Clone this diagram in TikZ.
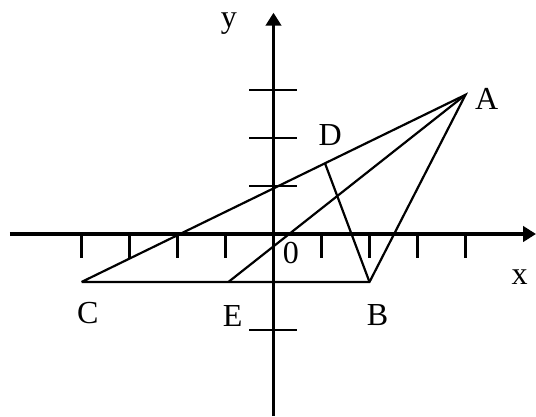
\documentclass[tikz,border=0pt]{standalone}
\usepackage{fontspec}
\setmainfont{Liberation Serif}
\usetikzlibrary{arrows.meta}

\begin{document}
\begin{tikzpicture}[
    axis/.style={line width=1.8pt,-{Triangle[length=0.27cm,width=0.32cm]}},
    tickmark/.style={line width=1.3pt},
    side/.style={line width=1.3pt,line join=miter},
    lbl/.style={font=\fontsize{19}{21}\selectfont,inner sep=0pt}]
\useasboundingbox (-5.698,-3.792) rectangle (5.469,4.875);
% axes
\coordinate (xs) at (-5.49,0);  \coordinate (xe) at (5.469,0);
\coordinate (ys) at (0,-3.792); \coordinate (ye) at (0,4.61);
\draw[axis](xs)--(xe);\draw[axis](ys)--(ye);
% ticks
\draw[tickmark](-4,0)--(-4,-0.5);\draw[tickmark](-3,0)--(-3,-0.5);
\draw[tickmark](-2,0)--(-2,-0.5);\draw[tickmark](-1,0)--(-1,-0.5);
\draw[tickmark](1,0)--(1,-0.5);\draw[tickmark](2,0)--(2,-0.5);
\draw[tickmark](3,0)--(3,-0.5);\draw[tickmark](4,0)--(4,-0.5);
\draw[tickmark](-0.5,3)--(0.5,3);\draw[tickmark](-0.5,2)--(0.5,2);
\draw[tickmark](-0.5,1)--(0.5,1);\draw[tickmark](-0.5,-1)--(0.5,-1);
\draw[tickmark](-0.5,-2)--(0.5,-2);
% points
\coordinate (A) at (4,2.9);
\coordinate (B) at (2,-1);
\coordinate (C) at (-4,-1);
\coordinate (D) at (1.07,1.48);
\coordinate (E) at (-0.94,-1);
\draw[side](C)--(A)--(B)--(C);
\draw[side](E)--(A);\draw[side](D)--(B);
% labels
\node[lbl] (lx) at (5.13,-0.9)  {x};
\node[lbl] (ly) at (-0.93,4.39) {y};
\node[lbl] (lo) at (0.36,-0.4)  {0};
\node[lbl] (lA) at (4.44,2.81)  {A};
\node[lbl] (lB) at (2.17,-1.68) {B};
\node[lbl] (lC) at (-3.87,-1.65){C};
\node[lbl] (lD) at (1.18,2.06)  {D};
\node[lbl] (lE) at (-0.85,-1.71){E};
\end{tikzpicture}
\end{document}
